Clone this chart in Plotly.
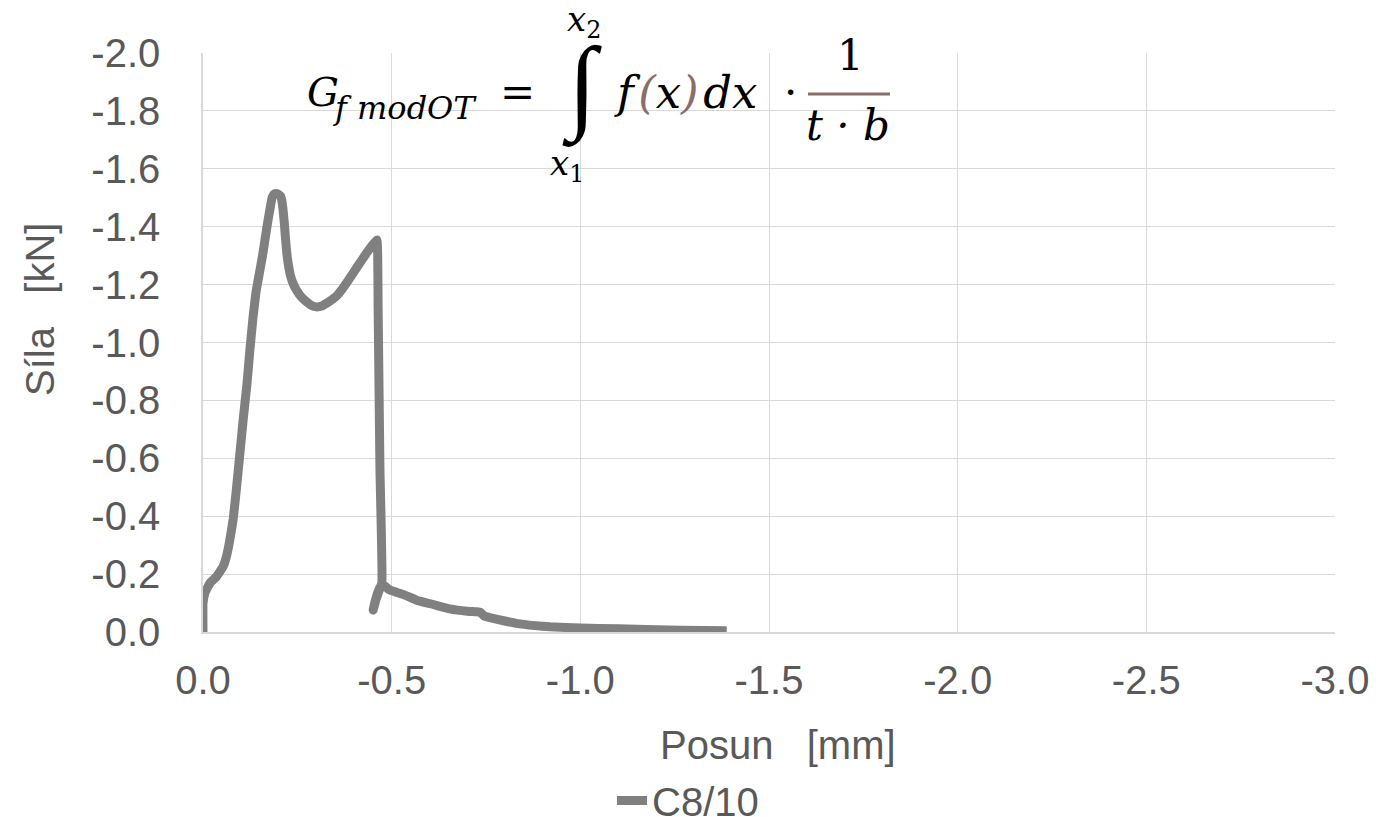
import plotly.graph_objects as go

# ---- data ----
posun = [0, 0, -0.005, -0.019, -0.035, -0.053, -0.062, -0.07, -0.08, -0.089, -0.098,
         -0.107, -0.116, -0.124, -0.132, -0.14, -0.146, -0.153, -0.159, -0.166, -0.172,
         -0.178, -0.183, -0.188, -0.193, -0.2, -0.206, -0.209, -0.212, -0.215, -0.218,
         -0.222, -0.226, -0.232, -0.24, -0.249, -0.26, -0.275, -0.288, -0.30, -0.315,
         -0.328, -0.342, -0.355, -0.368, -0.38, -0.394, -0.408, -0.421, -0.434, -0.445,
         -0.456, -0.461, -0.463, -0.464, -0.469, -0.474, -0.466, -0.458, -0.451, -0.455,
         -0.464, -0.475, -0.495, -0.53, -0.566, -0.61, -0.654, -0.7, -0.725, -0.735,
         -0.745, -0.76, -0.8, -0.83, -0.88, -0.92, -1.0, -1.1, -1.2, -1.27, -1.388]
sila = [0, -0.10, -0.135, -0.17, -0.19, -0.225, -0.26, -0.31, -0.39, -0.50, -0.62,
        -0.74, -0.85, -0.97, -1.08, -1.17, -1.215, -1.265, -1.31, -1.37, -1.42,
        -1.465, -1.50, -1.512, -1.515, -1.512, -1.505, -1.49, -1.46, -1.42, -1.37,
        -1.31, -1.27, -1.23, -1.20, -1.178, -1.158, -1.14, -1.128, -1.123, -1.126,
        -1.136, -1.148, -1.162, -1.183, -1.205, -1.232, -1.26, -1.285, -1.31, -1.33,
        -1.347, -1.354, -1.30, -1.136, -0.56, -0.17, -0.14, -0.11, -0.076, -0.10,
        -0.14, -0.165, -0.145, -0.13, -0.11, -0.095, -0.08, -0.072, -0.07, -0.068,
        -0.055, -0.05, -0.038, -0.03, -0.022, -0.018, -0.014, -0.011, -0.008, -0.006, -0.004]
series_name = "C8/10"

x_tickvals = [0, -0.5, -1.0, -1.5, -2.0, -2.5, -3.0]
x_ticktext = ["0.0", "-0.5", "-1.0", "-1.5", "-2.0", "-2.5", "-3.0"]
y_tickvals = [0, -0.2, -0.4, -0.6, -0.8, -1.0, -1.2, -1.4, -1.6, -1.8, -2.0]
y_ticktext = ["0.0", "-0.2", "-0.4", "-0.6", "-0.8", "-1.0", "-1.2", "-1.4", "-1.6", "-1.8", "-2.0"]

x_title = "Posun\u00a0\u00a0\u00a0[mm]"
y_title = "Síla\u00a0\u00a0\u00a0[kN]"

# ---- layout geometry ----
W, H = 1378, 817
L, R, T, B = 203, 43, 53, 185
PW, PH = W - L - R, H - T - B


def px(X):
    return (X - L) / PW


def py(Y):
    return (H - B - Y) / PH


GRAY = "#808080"
TXT = "#595959"
GRID = "#d9d9d9"
SANS = "Liberation Sans, Arial, sans-serif"
SERIF = "DejaVu Serif, serif"
BROWN = "#8a6e6a"

fig = go.Figure()
fig.add_trace(go.Scatter(
    x=posun, y=sila, mode="lines", name=series_name,
    line=dict(color=GRAY, width=9, shape="spline", smoothing=0.3),
))

fig.update_layout(
    width=W, height=H,
    margin=dict(l=L, r=R, t=T, b=B, autoexpand=False),
    paper_bgcolor="white", plot_bgcolor="white",
    showlegend=True,
    legend=dict(orientation="h", x=px(612), xanchor="left",
                yref="container", y=1 - 768 / H, yanchor="top",
                font=dict(family=SANS, size=40, color=TXT), bgcolor="rgba(0,0,0,0)"),
    xaxis=dict(range=[0, -3.0], tickvals=x_tickvals, ticktext=x_ticktext,
               showgrid=True, gridcolor=GRID, gridwidth=1.3, zeroline=False,
               showline=True, linecolor=GRID, linewidth=1.5, automargin=False,
               ticks="", ticklabelstandoff=12,
               tickfont=dict(family=SANS, size=40, color=TXT)),
    yaxis=dict(range=[0, -2.0], tickvals=y_tickvals, ticktext=y_ticktext,
               showgrid=True, gridcolor=GRID, gridwidth=1.3, zeroline=False,
               showline=True, linecolor=GRID, linewidth=1.5, automargin=False,
               ticks="", ticklabelstandoff=33,
               tickfont=dict(family=SANS, size=40, color=TXT)),
)

ann = []
# axis titles
ann.append(dict(text=x_title, x=px(778), y=py(745), xref="paper", yref="paper",
                showarrow=False, xanchor="center", yanchor="middle",
                font=dict(family=SANS, size=40, color=TXT)))
ann.append(dict(text=y_title, x=px(40), y=py(310), xref="paper", yref="paper",
                showarrow=False, xanchor="center", yanchor="middle", textangle=-90,
                font=dict(family=SANS, size=40, color=TXT)))


def mtext(text, X, Y, size, xanchor="left", italic=True, color="black", family=SERIF):
    ann.append(dict(text=text, x=px(X), y=py(Y), xref="paper", yref="paper",
                    showarrow=False, xanchor=xanchor, yanchor="middle",
                    font=dict(family=family, size=size, color=color,
                              style="italic" if italic else "normal")))


# formula  G_f modOT = ∫_{x1}^{x2} f(x)dx · 1/(t·b)
UP = "<span style='font-style:normal'>%s</span>"
HS = "\u200a"
mtext("G", 305, 92, 40)
mtext("f modOT", 331, 108, 32)
mtext("=", 517, 92, 42, xanchor="center", italic=False)
mtext("∫", 582, 87, 104, xanchor="center", italic=False, family="Liberation Serif, serif")
mtext("x<sub>" + UP % "2" + "</sub>", 584, 22, 34, xanchor="center")
mtext("x<sub>" + UP % "1" + "</sub>", 567, 166, 34, xanchor="center")
mtext("f" + HS + "<span style='color:%s'>(</span>x<span style='color:%s'>)</span>" % (BROWN, BROWN)
      + HS + "dx", 612, 92, 45)
mtext("·", 790, 92, 42, xanchor="center", italic=False)
mtext("1", 850, 55, 42, xanchor="center", italic=False)
mtext("t · b", 848, 125, 42, xanchor="center")

fig.update_layout(annotations=ann)
fig.add_shape(type="line", xref="paper", yref="paper",
              x0=px(808), x1=px(890), y0=py(94), y1=py(94),
              line=dict(color=BROWN, width=3))

fig.write_html("out.html", config={"displayModeBar": False},
               post_script="document.body.style.margin='0';document.body.style.padding='0';")
